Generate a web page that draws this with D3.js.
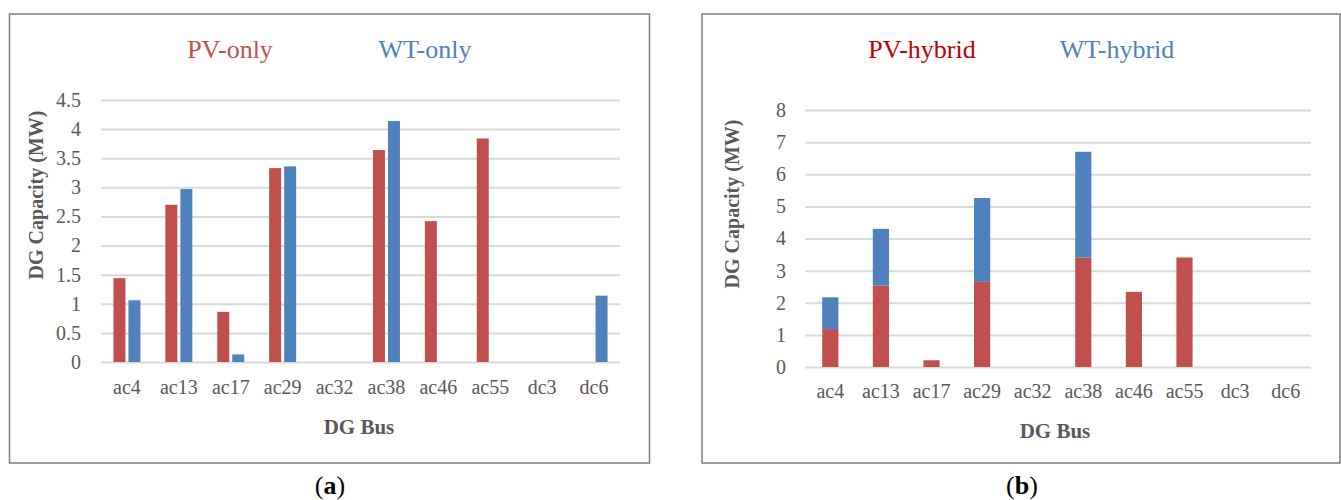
<!DOCTYPE html>
<html>
<head>
<meta charset="utf-8">
<script src="https://cdn.jsdelivr.net/npm/d3@7"></script>
<style>
    body { margin: 0; background: #fff; }
    svg text { font-family: "Liberation Serif", "Times New Roman", serif; }
</style>
</head>
<body>
<svg id="chart" width="1341" height="500"></svg>
<script>
const buses = ['ac4', 'ac13', 'ac17', 'ac29', 'ac32', 'ac38', 'ac46', 'ac55', 'dc3', 'dc6'];

// (a) single-source placement
const seriesA = ['PV-only', 'WT-only'];
const pvOnly = [1.44, 2.70, 0.86, 3.33, 0, 3.64, 2.42, 3.84, 0, 0];
const wtOnly = [1.06, 2.97, 0.13, 3.36, 0, 4.14, 0, 0, 0, 1.14];
const ticksA = [0, 0.5, 1, 1.5, 2, 2.5, 3, 3.5, 4, 4.5];

// (b) hybrid placement, stacked
const seriesB = ['PV-hybrid', 'WT-hybrid'];
const pvHybrid = [1.18, 2.54, 0.21, 2.65, 0, 3.41, 2.34, 3.41, 0, 0];
const wtHybrid = [0.99, 1.76, 0, 2.61, 0, 3.29, 0, 0, 0, 0];
const ticksB = [0, 1, 2, 3, 4, 5, 6, 7, 8];

const red = '#C0504D';
const blue = '#4F81BD';
const textGray = '#595959';
const gridGray = '#D9D9D9';

let svg = d3.select('#chart');
svg.append('rect').attr('width', 1341).attr('height', 500).attr('fill', '#fff');

function frame(x, y, w, h) {
    svg.append('rect')
        .attr('x', x).attr('y', y)
        .attr('width', w).attr('height', h)
        .attr('fill', 'none')
        .attr('stroke', '#7F7F7F')
        .attr('stroke-width', 1.5);
}

function yAxis(y, ticks, left, width, pad) {
    let g = svg.append('g')
        .attr('transform', `translate(${left},0)`)
        .call(d3.axisLeft(y).tickValues(ticks).tickSize(-width).tickPadding(pad).tickFormat(d3.format('')));
    g.select('.domain').remove();
    g.selectAll('line').attr('stroke', gridGray).attr('stroke-width', 2);
    g.selectAll('text').attr('fill', textGray).attr('font-size', 20);
}

function xAxis(x, base, pad) {
    let g = svg.append('g')
        .attr('transform', `translate(0,${base})`)
        .call(d3.axisBottom(x).tickSize(0).tickPadding(pad));
    g.select('.domain').remove();
    g.selectAll('text').attr('fill', textGray).attr('font-size', 20);
}

function labels(cfg) {
    svg.append('text')
        .attr('transform', `translate(${cfg.yTitleX},${cfg.yTitleY}) rotate(-90)`)
        .attr('text-anchor', 'middle')
        .attr('dominant-baseline', 'central')
        .attr('font-weight', 'bold')
        .attr('font-size', 20)
        .attr('fill', textGray)
        .text('DG Capacity (MW)');

    svg.append('text')
        .attr('x', cfg.xTitleX).attr('y', cfg.xTitleY)
        .attr('text-anchor', 'middle')
        .attr('font-weight', 'bold')
        .attr('font-size', 21)
        .attr('fill', textGray)
        .text('DG Bus');

    cfg.legend.forEach((name, i) => {
        svg.append('text')
            .attr('x', cfg.legendX[i]).attr('y', 58)
            .attr('text-anchor', 'middle')
            .attr('font-size', 26)
            .attr('fill', cfg.legendColors[i])
            .text(name);
    });

    let cap = svg.append('text')
        .attr('x', cfg.capX).attr('y', 494)
        .attr('text-anchor', 'middle')
        .attr('font-size', 26)
        .attr('fill', '#000');
    cap.append('tspan').text('(');
    cap.append('tspan').attr('font-weight', 'bold').text(cfg.cap);
    cap.append('tspan').text(')');
}

// ---- panel (a): clustered columns ----
frame(9.5, 14, 640, 449);
{
    let x0 = d3.scaleBand().domain(buses).range([101, 620]).paddingInner(0.48).paddingOuter(0.24);
    let x1 = d3.scaleBand().domain(seriesA).range([0, x0.bandwidth()]).paddingInner(0.2);
    let y = d3.scaleLinear().domain([0, 4.5]).range([362, 100]);

    yAxis(y, ticksA, 101, 519, 20);
    xAxis(x0, 362, 18);

    let rows = buses.map((b, i) => ({ bus: b, vals: [pvOnly[i], wtOnly[i]] }));
    svg.append('g').selectAll('g')
        .data(rows)
        .join('g')
        .attr('transform', d => `translate(${x0(d.bus)},0)`)
        .selectAll('rect')
        .data(d => d.vals.map((v, k) => ({ key: seriesA[k], v: v })))
        .join('rect')
        .attr('x', d => x1(d.key))
        .attr('width', x1.bandwidth())
        .attr('y', d => y(d.v))
        .attr('height', d => y(0) - y(d.v))
        .attr('fill', d => d.key === seriesA[0] ? red : blue);

    labels({
        yTitleX: 36, yTitleY: 195,
        xTitleX: 359, xTitleY: 434,
        legend: seriesA, legendX: [230, 425], legendColors: [red, blue],
        capX: 330, cap: 'a'
    });
}

// ---- panel (b): stacked columns ----
frame(702, 14, 638, 449);
{
    let x = d3.scaleBand().domain(buses).range([805, 1311]).paddingInner(0.68).paddingOuter(0.34);
    let y = d3.scaleLinear().domain([0, 8]).range([367, 110]);

    yAxis(y, ticksB, 805, 506, 19);
    xAxis(x, 367, 17);

    let rows = buses.map((b, i) => ({ bus: b, 'PV-hybrid': pvHybrid[i], 'WT-hybrid': wtHybrid[i] }));
    let stacked = d3.stack().keys(seriesB)(rows);

    svg.append('g').selectAll('g')
        .data(stacked)
        .join('g')
        .attr('fill', (d, i) => i === 0 ? red : blue)
        .selectAll('rect')
        .data(d => d)
        .join('rect')
        .attr('x', d => x(d.data.bus))
        .attr('width', x.bandwidth())
        .attr('y', d => y(d[1]))
        .attr('height', d => y(d[0]) - y(d[1]));

    labels({
        yTitleX: 732, yTitleY: 204,
        xTitleX: 1055, xTitleY: 438,
        legend: seriesB, legendX: [922, 1117], legendColors: ['#C00000', blue],
        capX: 1022, cap: 'b'
    });
}
</script>
</body>
</html>
